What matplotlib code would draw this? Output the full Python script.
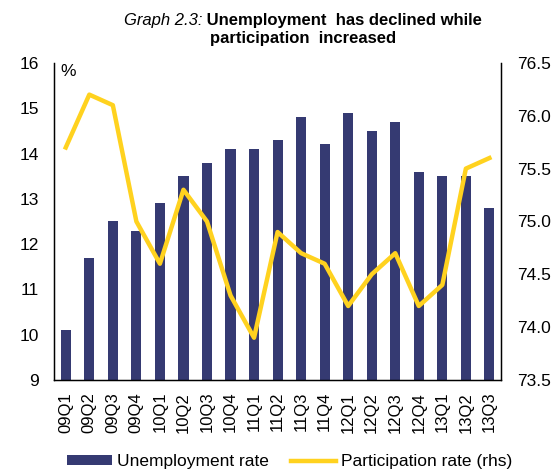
import matplotlib
matplotlib.use("Agg")
import matplotlib.pyplot as plt
from matplotlib.patches import Patch
from matplotlib.lines import Line2D
import numpy as np

plt.rcParams['font.family'] = ['Liberation Sans', 'DejaVu Sans']

quarters = ["09Q1","09Q2","09Q3","09Q4","10Q1","10Q2","10Q3","10Q4","11Q1","11Q2",
            "11Q3","11Q4","12Q1","12Q2","12Q3","12Q4","13Q1","13Q2","13Q3"]
unemployment = [10.1, 11.7, 12.5, 12.3, 12.9, 13.5, 13.8, 14.1, 14.1, 14.3,
                14.8, 14.2, 14.9, 14.5, 14.7, 13.6, 13.5, 13.5, 12.8]
participation = [75.7, 76.2, 76.1, 75.0, 74.6, 75.3, 75.0, 74.3, 73.9, 74.9,
                 74.7, 74.6, 74.2, 74.5, 74.7, 74.2, 74.4, 75.5, 75.6]

bar_color = "#353a72"
line_color = "#ffd21f"
fs = 12.5

fig = plt.figure(figsize=(5.55, 4.73), dpi=100)
ax = fig.add_axes([0.0973, 0.1966, 0.8057, 0.6704])
x = np.arange(len(quarters))
ax.bar(x, unemployment, width=0.43, color=bar_color, zorder=2)
ax.set_ylim(9, 16)
ax.set_xlim(-0.5, len(quarters) - 0.5)
ax.set_yticks(range(9, 17))
ax.set_xticks(x)
ax.set_xticklabels(quarters, rotation=90, fontsize=12)
ax.tick_params(axis='x', length=0, pad=8.5)
ax.tick_params(axis='y', length=0, labelsize=fs, pad=11)
ax.spines['top'].set_visible(False)
for s in ['left', 'bottom', 'right']:
    ax.spines[s].set_linewidth(1.0)
ax.text(0.015, 0.995, "%", transform=ax.transAxes, ha='left', va='top', fontsize=fs)

ax2 = ax.twinx()
ax2.plot(x, participation, color=line_color, lw=3.2, zorder=3)
ax2.set_ylim(73.5, 76.5)
ticks2 = np.arange(73.5, 76.51, 0.5)
ax2.set_yticks(ticks2)
ax2.set_yticklabels([f"{v:.1f}" for v in ticks2])
ax2.tick_params(axis='y', length=0, labelsize=fs, pad=11.5)
ax2.spines['top'].set_visible(False)

# Title: italic prefix + bold text, centered
tfs = 12
t1 = fig.text(0, 0.956, "Graph 2.3:", ha='left', va='center', fontsize=tfs, style='italic')
t2 = fig.text(0, 0.956, " Unemployment  has declined while", ha='left', va='center',
              fontsize=tfs, fontweight='bold')
fig.canvas.draw()
r = fig.canvas.get_renderer()
w1 = t1.get_window_extent(r).width / fig.bbox.width
w2 = t2.get_window_extent(r).width / fig.bbox.width
cx = 0.546
start = cx - (w1 + w2) / 2
t1.set_x(start)
t2.set_x(start + w1)
fig.text(cx, 0.919, "participation  increased", ha='center', va='center',
         fontsize=tfs, fontweight='bold')

handles = [Patch(facecolor=bar_color, edgecolor='none'),
           Line2D([0], [0], color=line_color, lw=3.2)]
fig.legend(handles, ["Unemployment rate", "Participation rate (rhs)"],
           loc='center', bbox_to_anchor=(0.522, 0.024), ncol=2, frameon=False,
           fontsize=fs, handlelength=2.55, handleheight=0.45, handletextpad=0.3,
           columnspacing=1.3, borderpad=0)

fig.savefig("out.png", dpi=100)
